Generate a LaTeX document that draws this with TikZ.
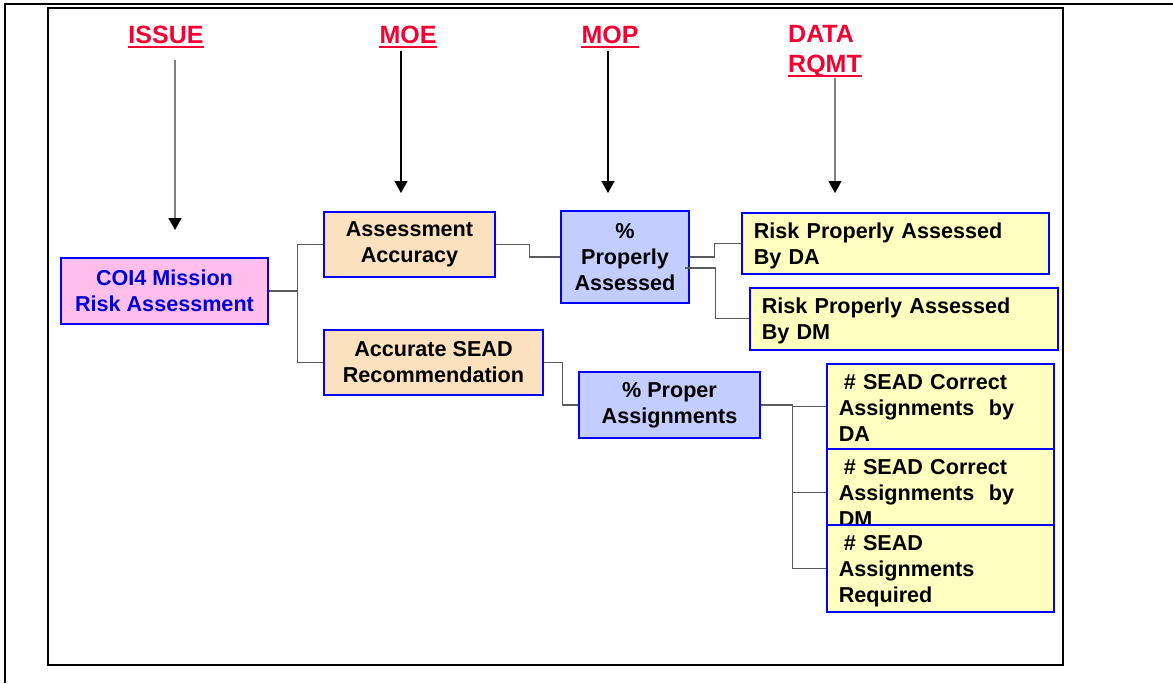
\documentclass[tikz,border=0pt]{standalone}
\usepackage{fontspec}
\setmainfont{Liberation Sans}
\usetikzlibrary{arrows.meta}
\definecolor{headRed}{RGB}{245,0,50}
\definecolor{boxBlue}{RGB}{0,0,255}
\definecolor{coiPink}{RGB}{255,190,235}
\definecolor{coiText}{RGB}{0,0,210}
\definecolor{moePeach}{RGB}{252,225,190}
\definecolor{mopBlue}{RGB}{196,205,255}
\definecolor{dataYellow}{RGB}{255,255,192}
\definecolor{linkGray}{RGB}{90,90,90}
\tikzset{
  headLabel/.style={%
    font=\fontsize{25}{30}\selectfont\bfseries, text=headRed,
    inner xsep=0pt, inner ysep=4pt, text depth=0pt,
  },
  headLine/.style={headRed, line width=2.4pt},
  headArrow/.style={%
    line width=1.5pt, -{Triangle[width=13pt,length=12pt,color=black]},
  },
  boxBase/.style={%
    draw=boxBlue, line width=1.6pt, inner sep=4pt,
    font=\fontsize{21.6}{26}\selectfont\bfseries,
  },
  issueBox/.style={boxBase, fill=coiPink, text=coiText, align=center},
  moeBox/.style={boxBase, fill=moePeach, align=center},
  mopBox/.style={boxBase, fill=mopBlue, align=center},
  dataBox/.style={%
    boxBase, fill=dataYellow, anchor=north west, align=left,
    inner xsep=12pt, inner ysep=0pt, text height=26pt,
  },
  linkLine/.style={linkGray, line width=1.2pt},
}

\begin{document}
\begin{tikzpicture}[x=1pt, y=-1pt]
  \useasboundingbox (0,0) rectangle (1173,683);
  % frames
  \draw[line width=2.4pt] (5,683) -- (5,4) -- (1173,4);
  \draw[line width=2.4pt] (48,8) rectangle (1063,665);

  % column heads
  \node[headLabel, anchor=base] (issue) at (166,43) {ISSUE};
  \node[headLabel, anchor=base] (moe) at (408,43) {MOE};
  \node[headLabel, anchor=base] (mop) at (610,43) {MOP};
  \node[headLabel, anchor=base west] (data) at (788,42) {DATA};
  \node[headLabel, anchor=base west] (rqmt) at (788,72) {RQMT};
  \draw[headLine] (issue.south west) -- (issue.south east);
  \draw[headLine] (moe.south west) -- (moe.south east);
  \draw[headLine] (mop.south west) -- (mop.south east);
  \draw[headLine] (rqmt.south west) -- (rqmt.south east);

  \coordinate (issueTop) at (175,60);
  \coordinate (issueTip) at (175,230);
  \coordinate (moeTop) at (401,51);
  \coordinate (moeTip) at (401,193);
  \coordinate (mopTop) at (608,51);
  \coordinate (mopTip) at (608,193);
  \coordinate (dataTop) at (835,78);
  \coordinate (dataTip) at (835,193);
  \draw[headArrow, gray] (issueTop) -- (issueTip);
  \draw[headArrow] (moeTop) -- (moeTip);
  \draw[headArrow] (mopTop) -- (mopTip);
  \draw[headArrow, gray] (dataTop) -- (dataTip);

  % boxes
  \node[issueBox, minimum width=207pt, minimum height=66pt]
    (coi) at (164.5,291) {COI4 Mission\\Risk Assessment};
  \node[moeBox, minimum width=171pt, minimum height=65pt]
    (acc) at (409.5,244.5) {Assessment\\Accuracy};
  \node[moeBox, minimum width=219pt, minimum height=65pt]
    (sead) at (433.5,362.5) {Accurate SEAD\\Recommendation};
  \node[mopBox, minimum width=128pt, minimum height=92pt]
    (prop) at (625,257) {\%\\Properly\\Assessed};
  \node[mopBox, minimum width=181pt, minimum height=66pt]
    (asg) at (669.5,405) {\% Proper\\Assignments};
  \node[dataBox, text width=283pt, text depth=35pt]
    (rda) at (741,212) {Risk Properly Assessed\\By DA};
  \node[dataBox, text width=284pt, text depth=36pt]
    (rdm) at (749,287) {Risk Properly Assessed\\By DM};
  \node[dataBox, text width=203pt, text depth=59pt]
    (cda) at (826,363) {\hspace*{5pt}\# SEAD Correct\\Assignments\ \ by\\DA};
  \node[dataBox, text width=203pt, text depth=50pt]
    (cdm) at (826,448) {\hspace*{5pt}\# SEAD Correct\\Assignments\ \ by\\DM};
  \node[dataBox, text width=203pt, text depth=61pt]
    (req) at (826,524) {\hspace*{5pt}\# SEAD\\Assignments\\Required};

  % links
  \draw[linkLine] (coi.east) -- ++(29,0) coordinate (coiFork);
  \draw[linkLine] (coiFork) |- (acc.west);
  \draw[linkLine] (coiFork) |- (sead.west);
  \draw[linkLine] (acc.east) -- ++(34,0) |- (prop.west);
  \draw[linkLine] (sead.east) -- ++(19,0) |- (asg.west);
  \draw[linkLine] (prop.east) -- ++(25,0) |- (rda.west);
  \draw[linkLine] (prop.east) ++(-5,11) -- ++(31,0) |- (rdm.west);
  \draw[linkLine] (asg.east) -- ++(32,0) coordinate (asgFork);
  \draw[linkLine] (asgFork) |- (cda.west);
  \draw[linkLine] (asgFork) |- ([yshift=-6pt]cdm.west);
  \draw[linkLine] (asgFork) |- (req.west);
\end{tikzpicture}
\end{document}
